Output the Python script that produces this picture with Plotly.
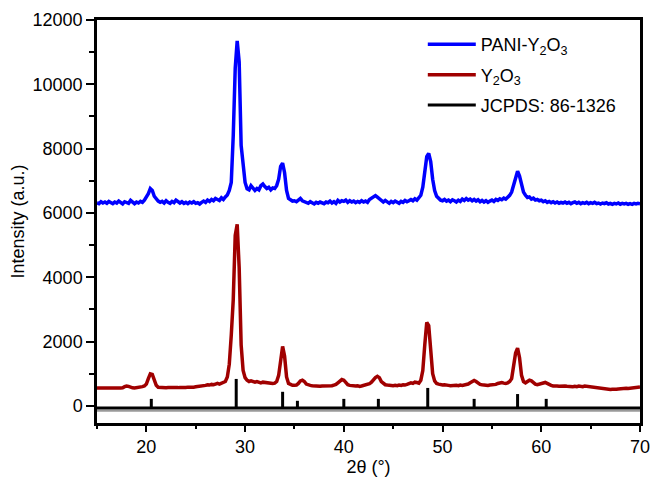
import numpy as np
import plotly.graph_objects as go

# 2-theta sampling grid (degrees)
two_theta = np.round(np.arange(15.0, 70.0001, 0.2), 1)

# PANI-Y2O3 diffraction pattern (counts), one row per 5 degrees
pani_y2o3 = [
    6320, 6290, 6350, 6310, 6340, 6300, 6360, 6320, 6290, 6340, 6310, 6370, 6320, 6280, 6350, 6330, 6300, 6390, 6320, 6290, 6340, 6310, 6360, 6330, 6400,
    6480, 6600, 6760, 6700, 6520, 6420, 6370, 6330, 6360, 6310, 6380, 6330, 6300, 6360, 6320, 6400, 6340, 6310, 6350, 6300, 6330, 6290, 6340, 6310, 6350,
    6300, 6320, 6280, 6330, 6370, 6330, 6400, 6360, 6420, 6380, 6450, 6420, 6390, 6470, 6420, 6500, 6560, 6700, 6950, 8400, 10500, 11350, 10700, 8100, 7500,
    6950, 6750, 6720, 6850, 6780, 6700, 6760, 6720, 6850, 6900, 6820, 6760, 6800, 6720, 6780, 6760, 6850, 7050, 7450, 7550, 7250, 6700, 6450, 6400, 6370,
    6380, 6350, 6400, 6450, 6380, 6350, 6330, 6300, 6350, 6310, 6280, 6330, 6300, 6340, 6310, 6290, 6340, 6320, 6370, 6310, 6350, 6300, 6390, 6340, 6380,
    6360, 6400, 6330, 6380, 6340, 6370, 6320, 6360, 6330, 6380, 6340, 6370, 6330, 6420, 6460, 6500, 6540, 6490, 6450, 6380, 6340, 6390, 6330, 6300, 6360,
    6320, 6370, 6340, 6300, 6360, 6330, 6390, 6350, 6380, 6420, 6380, 6440, 6400, 6470, 6550, 6800, 7300, 7750, 7850, 7600, 7050, 6700, 6520, 6440, 6400,
    6380, 6420, 6370, 6400, 6350, 6410, 6380, 6340, 6400, 6360, 6430, 6390, 6450, 6400, 6430, 6380, 6420, 6370, 6410, 6350, 6390, 6340, 6380, 6330, 6370,
    6400, 6360, 6420, 6390, 6440, 6410, 6460, 6430, 6480, 6550, 6650, 6900, 7150, 7300, 7150, 6900, 6650, 6550, 6480, 6500, 6430, 6460, 6400, 6420, 6380,
    6400, 6350, 6380, 6330, 6360, 6320, 6350, 6310, 6340, 6300, 6330, 6310, 6340, 6300, 6330, 6290, 6320, 6340, 6300, 6330, 6290, 6320, 6300, 6330, 6290,
    6320, 6300, 6330, 6290, 6310, 6280, 6310, 6290, 6320, 6280, 6300, 6270, 6300, 6280, 6310, 6270, 6300, 6280, 6300, 6270, 6290, 6270, 6300, 6280, 6300,
    6290,
]

# Y2O3 diffraction pattern (counts), one row per 5 degrees
y2o3 = [
    560, 555, 560, 555, 560, 555, 560, 555, 560, 560, 555, 560, 560, 565, 600, 620, 610, 580, 565, 560, 570, 560, 580, 600, 620,
    680, 850, 1000, 980, 800, 640, 580, 570, 565, 570, 565, 570, 565, 570, 565, 570, 570, 575, 570, 580, 575, 585, 580, 590, 585,
    595, 600, 605, 610, 620, 640, 660, 650, 670, 660, 680, 700, 680, 700, 720, 760, 900, 1300, 2200, 3300, 5300, 5650, 4300, 1900, 1100,
    880, 800, 760, 780, 750, 740, 760, 730, 720, 740, 730, 720, 710, 720, 700, 710, 760, 950, 1500, 1850, 1550, 900, 700, 660, 640,
    640, 650, 700, 780, 800, 760, 680, 650, 640, 630, 620, 610, 620, 610, 620, 620, 610, 620, 630, 630, 650, 670, 720, 790, 820,
    800, 720, 660, 640, 630, 640, 620, 630, 610, 620, 640, 650, 660, 690, 740, 820, 880, 920, 880, 760, 690, 660, 650, 640, 650,
    630, 640, 630, 650, 640, 660, 650, 670, 700, 720, 700, 740, 730, 710, 800, 1100, 1900, 2600, 2500, 1700, 1000, 780, 700, 680, 660,
    650, 660, 640, 640, 630, 640, 630, 640, 630, 650, 640, 650, 660, 680, 720, 760, 790, 760, 700, 670, 660, 650, 650, 640, 650,
    660, 650, 670, 700, 720, 730, 710, 700, 720, 760, 850, 1200, 1650, 1800, 1500, 950, 760, 720, 760, 800, 780, 720, 680, 660, 680,
    700, 720, 730, 700, 660, 640, 620, 630, 620, 610, 620, 610, 620, 610, 600, 610, 600, 610, 600, 620, 610, 600, 620, 610, 600,
    590, 580, 590, 570, 560, 550, 540, 530, 520, 520, 510, 520, 510, 520, 530, 540, 530, 540, 550, 540, 550, 560, 560, 570, 580,
    590,
]

# JCPDS 86-1326 reference reflections
jcpds_pos = [20.5, 29.1, 33.8, 35.3, 40.0, 43.5, 48.5, 53.2, 57.6, 60.5]
jcpds_top = [220, 840, 440, 160, 220, 220, 560, 220, 370, 220]
jcpds_base = -60

x_ticks = [20, 30, 40, 50, 60, 70]
y_ticks = [0, 2000, 4000, 6000, 8000, 10000, 12000]
y_tick_text = ["0", "2000", "4000", "6000", "8000", "10000", "12000"]

FONT = "Liberation Sans, Arial, Helvetica, sans-serif"

# stick pattern: a baseline plus one vertical bar per reflection
stick_x = [15, 70, None]
stick_y = [jcpds_base, jcpds_base, None]
for p, h in zip(jcpds_pos, jcpds_top):
    stick_x += [p, p, None]
    stick_y += [jcpds_base, h, None]

fig = go.Figure()
fig.add_trace(go.Scatter(
    x=two_theta, y=pani_y2o3, mode="lines", name="PANI-Y<sub>2</sub>O<sub>3</sub>",
    line=dict(color="#0000ff", width=3.5), legendgroup="a",
))
fig.add_trace(go.Scatter(
    x=two_theta, y=y2o3, mode="lines", name="Y<sub>2</sub>O<sub>3</sub>",
    line=dict(color="#a00000", width=3.5), legendgroup="b",
))
fig.add_trace(go.Scatter(
    x=[15, 70], y=[jcpds_base - 90, jcpds_base - 90], mode="lines", showlegend=False,
    line=dict(color="#9a9a9a", width=2), hoverinfo="skip",
))
fig.add_trace(go.Scatter(
    x=stick_x, y=stick_y, mode="lines", name="JCPDS: 86-1326",
    line=dict(color="#000000", width=3), legendgroup="c",
))

axis_common = dict(
    showline=True, linecolor="black", linewidth=2.5, mirror=True,
    ticks="outside", tickwidth=2, tickcolor="black",
    showgrid=False, zeroline=False, automargin=False,
    tickfont=dict(family=FONT, size=18, color="black"),
)

fig.update_xaxes(
    range=[15, 70], tickvals=x_ticks, ticklen=6,
    minor=dict(ticks="outside", ticklen=3, tickwidth=2, tickcolor="black", dtick=5, tick0=0),
    title=dict(text="2θ (°)", font=dict(family=FONT, size=18, color="black"), standoff=5),
    **axis_common,
)
fig.update_yaxes(
    range=[-530, 12000], tickvals=y_ticks, ticktext=y_tick_text, ticklen=8,
    minor=dict(ticks="outside", ticklen=5, tickwidth=2, tickcolor="black", dtick=1000, tick0=0),
    title=dict(text="Intensity (a.u.)", font=dict(family=FONT, size=18, color="black"), standoff=4),
    **axis_common,
)

fig.update_layout(
    width=655, height=481,
    margin=dict(l=97, r=15, t=20, b=58),
    paper_bgcolor="white", plot_bgcolor="white",
    showlegend=True,
    legend=dict(
        x=0.6, y=0.985, xanchor="left", yanchor="top",
        bgcolor="rgba(0,0,0,0)", borderwidth=0,
        font=dict(family=FONT, size=18, color="black"),
        tracegroupgap=4, itemwidth=48,
    ),
)

fig.write_html("out.html")
